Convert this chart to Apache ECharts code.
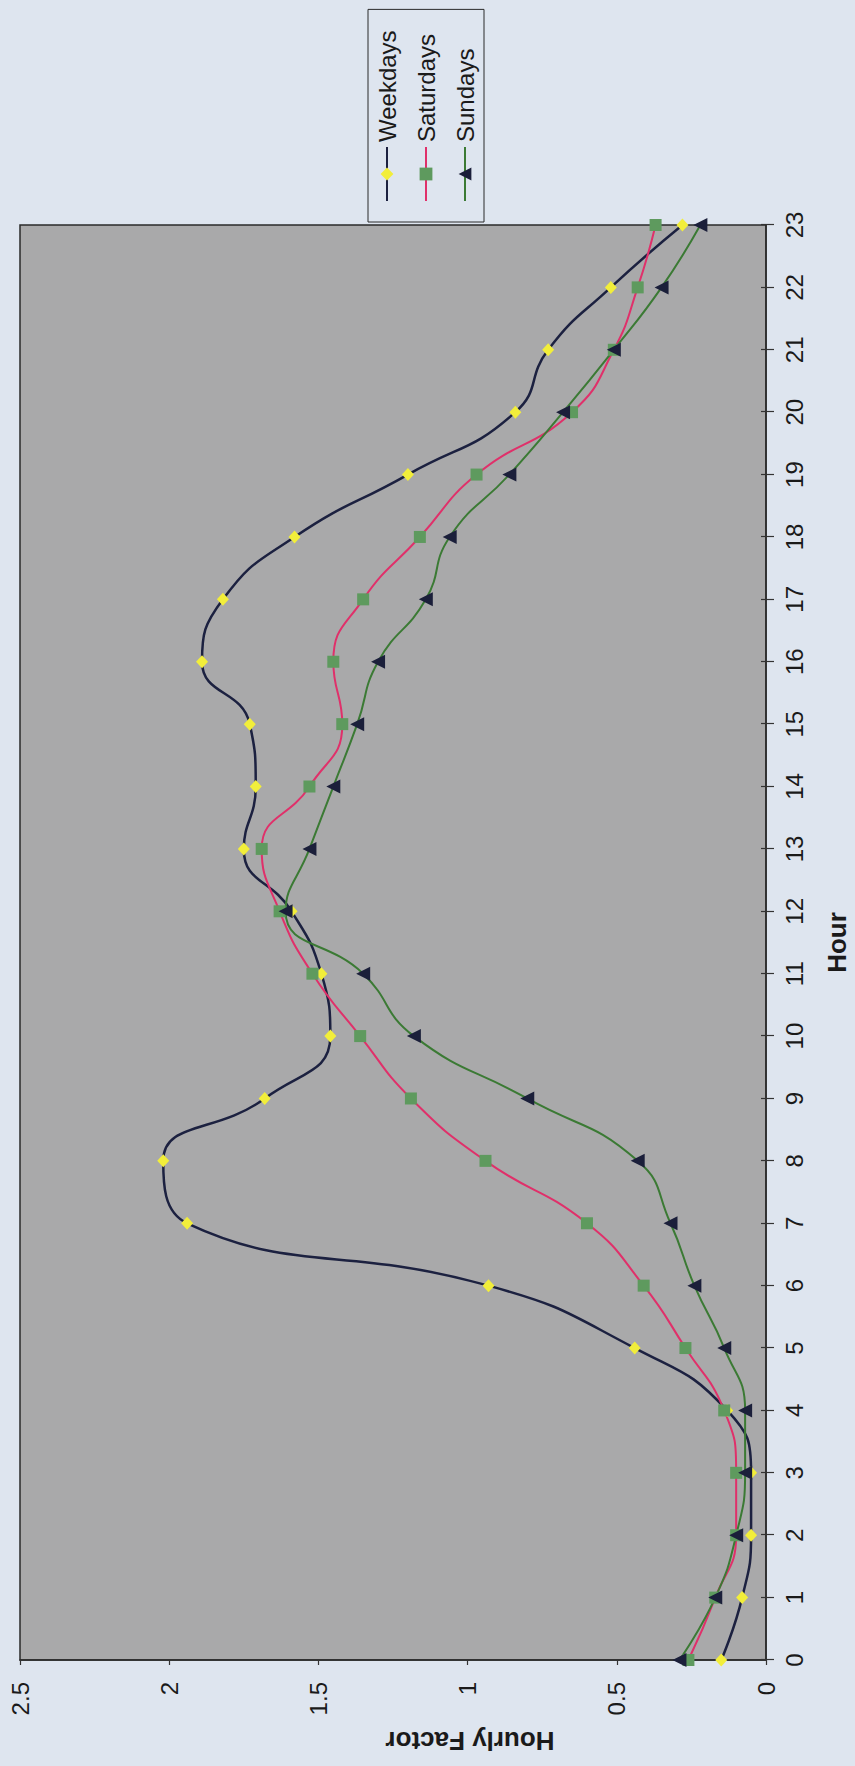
<!DOCTYPE html>
<html>
<head>
<meta charset="utf-8">
<script src="https://cdn.jsdelivr.net/npm/echarts@6/dist/echarts.min.js"></script>
<style>
  html, body { margin: 0; padding: 0; width: 855px; height: 1766px; overflow: hidden; background: #dee5ef; }
  #chart {
    position: absolute; left: 0; top: 0;
    width: 1766px; height: 855px;
    transform-origin: 0 0;
    transform: translate(0px, 1766px) rotate(-90deg);
  }
</style>
</head>
<body>
<div id="chart"></div>
<script>
// Hour categories (tick labels)
const hours = ['0','1','2','3','4','5','6','7','8','9','10','11','12','13','14','15','16','17','18','19','20','21','22','23'];
// Value-axis tick range
const factorMin = 0;
const factorMax = 2.5;
const factorStep = 0.5;
// Series values
const weekdays  = [0.15, 0.08, 0.05, 0.05, 0.13, 0.44, 0.93, 1.94, 2.02, 1.68, 1.46, 1.49, 1.59, 1.75, 1.71, 1.73, 1.89, 1.82, 1.58, 1.20, 0.84, 0.73, 0.52, 0.28];
const saturdays = [0.26, 0.17, 0.10, 0.10, 0.14, 0.27, 0.41, 0.60, 0.94, 1.19, 1.36, 1.52, 1.63, 1.69, 1.53, 1.42, 1.45, 1.35, 1.16, 0.97, 0.65, 0.51, 0.43, 0.37];
const sundays   = [0.29, 0.17, 0.10, 0.07, 0.07, 0.14, 0.24, 0.32, 0.43, 0.80, 1.18, 1.35, 1.61, 1.53, 1.45, 1.37, 1.30, 1.14, 1.06, 0.86, 0.68, 0.51, 0.35, 0.22];
const seriesNames = ['Weekdays', 'Saturdays', 'Sundays'];

const FONT = "'Liberation Sans', Arial, sans-serif";
const chart = echarts.init(document.getElementById('chart'), null, { renderer: 'svg', width: 1766, height: 855 });

chart.setOption({
  animation: false,
  backgroundColor: '#dee5ef',
  textStyle: { fontFamily: FONT },
  grid: {
    left: 106, right: 225, top: 20, bottom: 85,
    show: true, backgroundColor: '#a9a9aa',
    borderColor: '#2a2a2a', borderWidth: 1.5
  },
  legend: {
    orient: 'vertical',
    left: 1544, top: 368,
    padding: [6, 21, 6, 20],
    itemWidth: 54, itemHeight: 16, itemGap: 13,
    borderColor: '#2a2a2a', borderWidth: 1,
    backgroundColor: '#dee5ef',
    textStyle: { fontFamily: FONT, fontSize: 24, lineHeight: 26, color: '#1a1a1a' },
    data: seriesNames
  },
  xAxis: [{
    type: 'category',
    data: hours,
    boundaryGap: false,
    axisLine: { show: true, lineStyle: { color: '#2a2a2a', width: 1.5 } },
    axisTick: { show: true, length: 8, interval: 0, lineStyle: { color: '#333', width: 1.2 } },
    axisLabel: { fontFamily: FONT, fontSize: 24, color: '#1a1a1a', margin: 16, interval: 0 },
    splitLine: { show: false },
    name: 'Hour',
    nameLocation: 'middle',
    nameGap: 58,
    nameTextStyle: { fontFamily: FONT, fontSize: 26, fontWeight: 'bold', color: '#1a1a1a' }
  }, {
    type: 'category',
    data: hours,
    boundaryGap: false,
    position: 'bottom',
    axisLine: { show: false },
    axisTick: { show: true, inside: true, length: 5, interval: 0, lineStyle: { color: '#333', width: 1.2 } },
    axisLabel: { show: false },
    splitLine: { show: false }
  }],
  yAxis: {
    type: 'value',
    min: factorMin, max: factorMax, interval: factorStep,
    axisLine: { show: true, lineStyle: { color: '#2a2a2a', width: 1.5 } },
    axisTick: { show: true, length: 5, lineStyle: { color: '#333', width: 1.2 } },
    axisLabel: { fontFamily: FONT, fontSize: 24, color: '#1a1a1a', margin: 22 },
    splitLine: { show: false }
  },
  graphic: [{
    type: 'text',
    x: 25, y: 470,
    rotation: Math.PI / 2,
    style: {
      text: 'Hourly Factor',
      font: "bold 26px 'Liberation Sans', Arial, sans-serif",
      fill: '#1a1a1a',
      align: 'center', verticalAlign: 'middle'
    }
  }],
  series: [{
    name: seriesNames[0], type: 'line', data: weekdays, smooth: 0.5,
    symbol: 'diamond', symbolSize: [13, 12], showAllSymbol: true,
    lineStyle: { color: '#1c2140', width: 2.5 },
    itemStyle: { color: '#f2ee3a' }
  }, {
    name: seriesNames[1], type: 'line', data: saturdays, smooth: 0.5,
    symbol: 'rect', symbolSize: 12, showAllSymbol: true,
    lineStyle: { color: '#e0306a', width: 2 },
    itemStyle: { color: '#5e9a5e' }
  }, {
    name: seriesNames[2], type: 'line', data: sundays, smooth: 0.5,
    symbol: 'triangle', symbolSize: 14, showAllSymbol: true,
    lineStyle: { color: '#3b7a34', width: 2 },
    itemStyle: { color: '#1b1f3a' }
  }]
});
</script>
</body>
</html>
